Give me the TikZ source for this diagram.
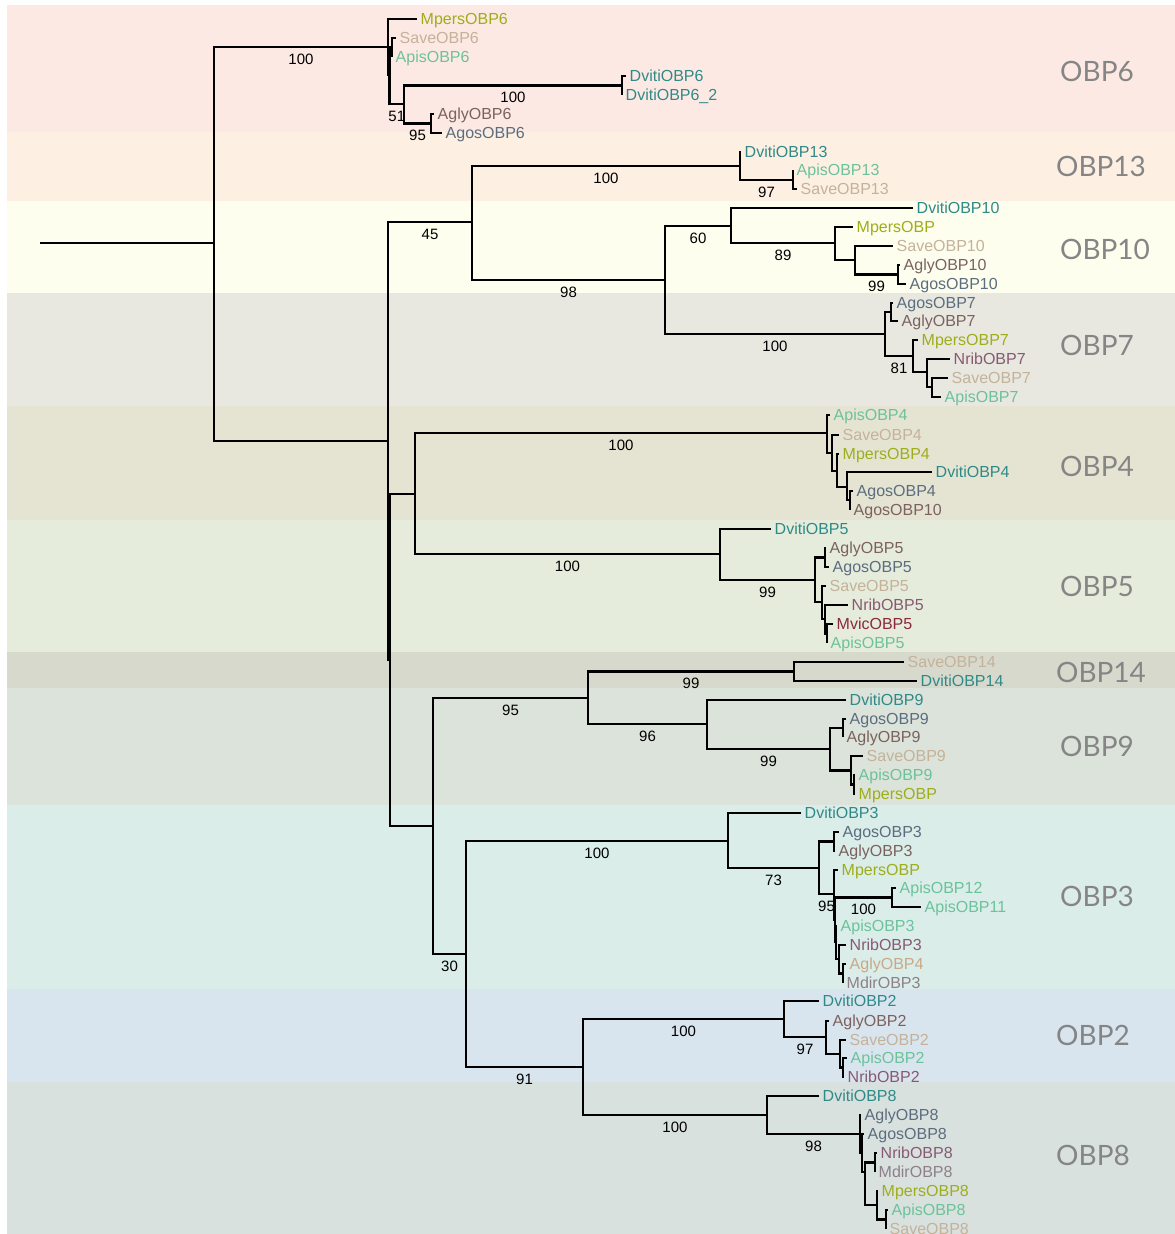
\documentclass[tikz,border=0pt]{standalone}
\usepackage{fontspec}
\setmainfont{Liberation Sans}
\newfontfamily\policegroupe{Lato}
% couleurs des especes
\definecolor{cMpers}{HTML}{9EAD1A}
\definecolor{cSave}{HTML}{C4B29A}
\definecolor{cApis}{HTML}{6CC29A}
\definecolor{cDviti}{HTML}{2F8A87}
\definecolor{cAgly}{HTML}{7B625E}
\definecolor{cAgos}{HTML}{5B6D7E}
\definecolor{cNrib}{HTML}{875A72}
\definecolor{cMvic}{HTML}{8A2A3B}
\definecolor{cMdir}{HTML}{8D8088}
\definecolor{cTan}{HTML}{C8A988}
% couleurs des bandes
\definecolor{bOBPsix}{HTML}{FDE9E4}
\definecolor{bOBPtreize}{HTML}{FDF0E3}
\definecolor{bOBPdix}{HTML}{FEFEEE}
\definecolor{bOBPsept}{HTML}{E8E8E1}
\definecolor{bOBPquatre}{HTML}{E5E4D3}
\definecolor{bOBPcinq}{HTML}{E6ECDC}
\definecolor{bOBPquatorze}{HTML}{D8D9CD}
\definecolor{bOBPneuf}{HTML}{DCE3DA}
\definecolor{bOBPtrois}{HTML}{DAEDE9}
\definecolor{bOBPdeux}{HTML}{D9E5EE}
\definecolor{bOBPhuit}{HTML}{D9E1DF}
\begin{document}
\begin{tikzpicture}[x=1pt,y=-1pt]
			% Styles (MODIFIABLES)
			\tikzstyle{branche}=[-,line width=2.1pt]
			\tikzstyle{feuille}=[anchor=west,inner xsep=3.5pt,inner ysep=0pt,text height=11.5pt,text depth=0pt,font=\fontsize{16}{16}\selectfont]
			\tikzstyle{support}=[pos=0.75,below,inner sep=5pt,text height=11pt,text depth=0pt,font=\fontsize{15}{15}\selectfont]
			\tikzstyle{groupe}=[text=black!48,font=\policegroupe\fontsize{28}{28}\selectfont]
			\useasboundingbox (0,0) rectangle (1175,1234);
			% Bandes
			\fill[bOBPsix] (7,5) rectangle (1175,132);
			\fill[bOBPtreize] (7,132) rectangle (1175,201);
			\fill[bOBPdix] (7,201) rectangle (1175,293);
			\fill[bOBPsept] (7,293) rectangle (1175,406);
			\fill[bOBPquatre] (7,406) rectangle (1175,520);
			\fill[bOBPcinq] (7,520) rectangle (1175,652);
			\fill[bOBPquatorze] (7,652) rectangle (1175,688);
			\fill[bOBPneuf] (7,688) rectangle (1175,805);
			\fill[bOBPtrois] (7,805) rectangle (1175,989);
			\fill[bOBPdeux] (7,989) rectangle (1175,1082);
			\fill[bOBPhuit] (7,1082) rectangle (1175,1234);
			\node[groupe] (lblOBP6) at (1097,71) {OBP6};
			\node[groupe] (lblOBP13) at (1101,166) {OBP13};
			\node[groupe] (lblOBP10) at (1105,249) {OBP10};
			\node[groupe] (lblOBP7) at (1097,345) {OBP7};
			\node[groupe] (lblOBP4) at (1097,466) {OBP4};
			\node[groupe] (lblOBP5) at (1097,586) {OBP5};
			\node[groupe] (lblOBP14) at (1101,672) {OBP14};
			\node[groupe] (lblOBP9) at (1097,746) {OBP9};
			\node[groupe] (lblOBP3) at (1097,896) {OBP3};
			\node[groupe] (lblOBP2) at (1093,1035) {OBP2};
			\node[groupe] (lblOBP8) at (1093,1155) {OBP8};
			% Noeuds internes (axe principal)
			\coordinate (racine) at (40,243);
			\coordinate (R) at (214,243);
			\coordinate (Rb) at (388,441);
			\coordinate (Rba) at (472,222);
			\coordinate (Rbab) at (665,280);
			\coordinate (Rbb) at (390,660);
			\coordinate (Rbba) at (415,494);
			\coordinate (Rbbb) at (433,826);
			\coordinate (Rbbba) at (588,698);
			\coordinate (Rbbbb) at (466,954);
			\coordinate (Rbbbbb) at (583,1067);
			% Noeuds internes (groupes)
			\coordinate (G6) at (388,47);
			\coordinate (G6b) at (389.5,75);
			\coordinate (G6ba) at (392,47);
			\coordinate (G6bb) at (404,104);
			\coordinate (G6bba) at (622,85.5);
			\coordinate (G6bbb) at (431,123.5);
			\coordinate (G13) at (740,166);
			\coordinate (G13b) at (793,180);
			\coordinate (G10) at (731,226);
			\coordinate (G10b) at (835,243);
			\coordinate (G10bb) at (855,260);
			\coordinate (G10bbb) at (898,274.5);
			\coordinate (G7) at (885,334);
			\coordinate (G7a) at (891,312);
			\coordinate (G7b) at (913,356);
			\coordinate (G7bb) at (927,372);
			\coordinate (G7bbb) at (932,387);
			\coordinate (G4) at (827,433);
			\coordinate (G4b) at (832,453);
			\coordinate (G4bb) at (837,471);
			\coordinate (G4bbb) at (847,487);
			\coordinate (G4bbbb) at (850,500);
			\coordinate (G5) at (720,554);
			\coordinate (G5b) at (815,580);
			\coordinate (G5ba) at (825,557.5);
			\coordinate (G5bb) at (822,602);
			\coordinate (G5bbb) at (825,619);
			\coordinate (G5bbbb) at (827,633.5);
			\coordinate (G14) at (794,671.5);
			\coordinate (G9) at (707,724);
			\coordinate (G9b) at (830,749);
			\coordinate (G9ba) at (843,728);
			\coordinate (G9bb) at (851,770.5);
			\coordinate (G9bbb) at (854,784.5);
			\coordinate (G3) at (728,841);
			\coordinate (G3b) at (819,868);
			\coordinate (G3ba) at (834,841.5);
			\coordinate (G3bb) at (834,894);
			\coordinate (G3bbb) at (835,920);
			\coordinate (G3bbba) at (892,897.5);
			\coordinate (G3bbbb) at (836,942);
			\coordinate (G3bbbbb) at (839,959);
			\coordinate (G3bbbbbb) at (843,973.5);
			\coordinate (G2) at (784,1019);
			\coordinate (G2b) at (826,1037);
			\coordinate (G2bb) at (840,1054);
			\coordinate (G2bbb) at (843,1067.5);
			\coordinate (G8) at (767,1115);
			\coordinate (G8b) at (860,1134);
			\coordinate (G8bb) at (862,1153);
			\coordinate (G8bbb) at (865,1172);
			\coordinate (G8bbba) at (875,1162.5);
			\coordinate (G8bbbb) at (877,1205);
			\coordinate (G8bbbbb) at (886,1219.5);
			% Feuilles
			\node[feuille,text=cMpers] (Mpers6) at (417,19) {MpersOBP6};
			\node[feuille,text=cSave] (Save6) at (396,38) {SaveOBP6};
			\node[feuille,text=cApis] (Apis6) at (392,57) {ApisOBP6};
			\node[feuille,text=cDviti] (Dviti6) at (626,76) {DvitiOBP6};
			\node[feuille,text=cDviti] (Dviti6b) at (622,95) {DvitiOBP6\_2};
			\node[feuille,text=cAgly] (Agly6) at (434,114) {AglyOBP6};
			\node[feuille,text=cAgos] (Agos6) at (442,133) {AgosOBP6};
			\node[feuille,text=cDviti] (Dviti13) at (741,152) {DvitiOBP13};
			\node[feuille,text=cApis] (Apis13) at (793,170) {ApisOBP13};
			\node[feuille,text=cSave] (Save13) at (797,189) {SaveOBP13};
			\node[feuille,text=cDviti] (Dviti10) at (913,208) {DvitiOBP10};
			\node[feuille,text=cMpers] (Mpers10) at (853,227) {MpersOBP};
			\node[feuille,text=cSave] (Save10) at (893,246) {SaveOBP10};
			\node[feuille,text=cAgly] (Agly10) at (900,265) {AglyOBP10};
			\node[feuille,text=cAgos] (Agos10) at (906,284) {AgosOBP10};
			\node[feuille,text=cAgos] (Agos7) at (893,303) {AgosOBP7};
			\node[feuille,text=cAgly] (Agly7) at (898,321) {AglyOBP7};
			\node[feuille,text=cMpers] (Mpers7) at (918,340) {MpersOBP7};
			\node[feuille,text=cNrib] (Nrib7) at (950,359) {NribOBP7};
			\node[feuille,text=cSave] (Save7) at (948,378) {SaveOBP7};
			\node[feuille,text=cApis] (Apis7) at (941,397) {ApisOBP7};
			\node[feuille,text=cApis] (Apis4) at (830,415) {ApisOBP4};
			\node[feuille,text=cSave] (Save4) at (839,435) {SaveOBP4};
			\node[feuille,text=cMpers] (Mpers4) at (839,454) {MpersOBP4};
			\node[feuille,text=cDviti] (Dviti4) at (932,472) {DvitiOBP4};
			\node[feuille,text=cAgos] (Agos4) at (853,491) {AgosOBP4};
			\node[feuille,text=cAgly] (Agos4b) at (850,510) {AgosOBP10};
			\node[feuille,text=cDviti] (Dviti5) at (771,529) {DvitiOBP5};
			\node[feuille,text=cAgly] (Agly5) at (826,548) {AglyOBP5};
			\node[feuille,text=cAgos] (Agos5) at (829,567) {AgosOBP5};
			\node[feuille,text=cSave] (Save5) at (826,586) {SaveOBP5};
			\node[feuille,text=cNrib] (Nrib5) at (848,605) {NribOBP5};
			\node[feuille,text=cMvic] (Mvic5) at (833,624) {MvicOBP5};
			\node[feuille,text=cApis] (Apis5) at (827,643) {ApisOBP5};
			\node[feuille,text=cSave] (Save14) at (904,662) {SaveOBP14};
			\node[feuille,text=cDviti] (Dviti14) at (917,681) {DvitiOBP14};
			\node[feuille,text=cDviti] (Dviti9) at (846,700) {DvitiOBP9};
			\node[feuille,text=cAgos] (Agos9) at (846,719) {AgosOBP9};
			\node[feuille,text=cAgly] (Agly9) at (843,737) {AglyOBP9};
			\node[feuille,text=cSave] (Save9) at (863,756) {SaveOBP9};
			\node[feuille,text=cApis] (Apis9) at (855,775) {ApisOBP9};
			\node[feuille,text=cMpers] (Mpers9) at (855,794) {MpersOBP};
			\node[feuille,text=cDviti] (Dviti3) at (801,813) {DvitiOBP3};
			\node[feuille,text=cAgos] (Agos3) at (839,832) {AgosOBP3};
			\node[feuille,text=cAgly] (Agly3) at (835,851) {AglyOBP3};
			\node[feuille,text=cMpers] (Mpers3) at (838,870) {MpersOBP};
			\node[feuille,text=cApis] (Apis12) at (896,888) {ApisOBP12};
			\node[feuille,text=cApis] (Apis11) at (921,907) {ApisOBP11};
			\node[feuille,text=cApis] (Apis3) at (837,926) {ApisOBP3};
			\node[feuille,text=cNrib] (Nrib3) at (846,945) {NribOBP3};
			\node[feuille,text=cTan] (Agly4) at (846,964) {AglyOBP4};
			\node[feuille,text=cMdir] (Mdir3) at (843,983) {MdirOBP3};
			\node[feuille,text=cDviti] (Dviti2) at (819,1001) {DvitiOBP2};
			\node[feuille,text=cAgly] (Agly2) at (829,1021) {AglyOBP2};
			\node[feuille,text=cSave] (Save2) at (846,1040) {SaveOBP2};
			\node[feuille,text=cApis] (Apis2) at (847,1058) {ApisOBP2};
			\node[feuille,text=cNrib] (Nrib2) at (844,1077) {NribOBP2};
			\node[feuille,text=cDviti] (Dviti8) at (819,1096) {DvitiOBP8};
			\node[feuille,text=cAgos] (Agly8) at (861,1115) {AglyOBP8};
			\node[feuille,text=cAgos] (Agos8) at (864,1134) {AgosOBP8};
			\node[feuille,text=cNrib] (Nrib8) at (877,1153) {NribOBP8};
			\node[feuille,text=cMdir] (Mdir8) at (875,1172) {MdirOBP8};
			\node[feuille,text=cMpers] (Mpers8) at (878,1191) {MpersOBP8};
			\node[feuille,text=cApis] (Apis8) at (888,1210) {ApisOBP8};
			\node[feuille,text=cSave] (Save8) at (886,1229) {SaveOBP8};
			% Arcs (axe principal)
			\draw[branche] (racine)--(R);
			\draw[branche] (R) |- (G6) node[support]{100};
			\draw[branche] (R) |- (Rb);
			\draw[branche] (Rb) |- (Rba) node[support]{45};
			\draw[branche] (Rba) |- (G13) node[support]{100};
			\draw[branche] (Rba) |- (Rbab) node[support]{98};
			\draw[branche] (Rbab) |- (G10) node[support]{60};
			\draw[branche] (Rbab) |- (G7) node[support]{100};
			\draw[branche] (Rb) |- (Rbb);
			\draw[branche] (Rbb) |- (Rbba);
			\draw[branche] (Rbba) |- (G4) node[support]{100};
			\draw[branche] (Rbba) |- (G5) node[support]{100};
			\draw[branche] (Rbb) |- (Rbbb);
			\draw[branche] (Rbbb) |- (Rbbba) node[support]{95};
			\draw[branche] (Rbbba) |- (G14) node[support]{99};
			\draw[branche] (Rbbba) |- (G9) node[support]{96};
			\draw[branche] (Rbbb) |- (Rbbbb) node[support]{30};
			\draw[branche] (Rbbbb) |- (G3) node[support]{100};
			\draw[branche] (Rbbbb) |- (Rbbbbb) node[support]{91};
			\draw[branche] (Rbbbbb) |- (G2) node[support]{100};
			\draw[branche] (Rbbbbb) |- (G8) node[support]{100};
			% Arcs OBP6
			\draw[branche] (G6) |- (Mpers6.west);
			\draw[branche] (G6) |- (G6b);
			\draw[branche] (G6b) |- (G6ba);
			\draw[branche] (G6ba) |- (Save6.west);
			\draw[branche] (G6ba) |- (Apis6.west);
			\draw[branche] (G6b) |- (G6bb) node[support]{51};
			\draw[branche] (G6bb) |- (G6bba) node[support]{100};
			\draw[branche] (G6bba) |- (Dviti6.west);
			\draw[branche] (G6bba) |- (Dviti6b.west);
			\draw[branche] (G6bb) |- (G6bbb) node[support]{95};
			\draw[branche] (G6bbb) |- (Agly6.west);
			\draw[branche] (G6bbb) |- (Agos6.west);
			% Arcs OBP13
			\draw[branche] (G13) |- (Dviti13.west);
			\draw[branche] (G13) |- (G13b) node[support]{97};
			\draw[branche] (G13b) |- (Apis13.west);
			\draw[branche] (G13b) |- (Save13.west);
			% Arcs OBP10
			\draw[branche] (G10) |- (Dviti10.west);
			\draw[branche] (G10) |- (G10b) node[support]{89};
			\draw[branche] (G10b) |- (Mpers10.west);
			\draw[branche] (G10b) |- (G10bb);
			\draw[branche] (G10bb) |- (Save10.west);
			\draw[branche] (G10bb) |- (G10bbb) node[support]{99};
			\draw[branche] (G10bbb) |- (Agly10.west);
			\draw[branche] (G10bbb) |- (Agos10.west);
			% Arcs OBP7
			\draw[branche] (G7) |- (G7a);
			\draw[branche] (G7a) |- (Agos7.west);
			\draw[branche] (G7a) |- (Agly7.west);
			\draw[branche] (G7) |- (G7b) node[support]{81};
			\draw[branche] (G7b) |- (Mpers7.west);
			\draw[branche] (G7b) |- (G7bb);
			\draw[branche] (G7bb) |- (Nrib7.west);
			\draw[branche] (G7bb) |- (G7bbb);
			\draw[branche] (G7bbb) |- (Save7.west);
			\draw[branche] (G7bbb) |- (Apis7.west);
			% Arcs OBP4
			\draw[branche] (G4) |- (Apis4.west);
			\draw[branche] (G4) |- (G4b);
			\draw[branche] (G4b) |- (Save4.west);
			\draw[branche] (G4b) |- (G4bb);
			\draw[branche] (G4bb) |- (Mpers4.west);
			\draw[branche] (G4bb) |- (G4bbb);
			\draw[branche] (G4bbb) |- (Dviti4.west);
			\draw[branche] (G4bbb) |- (G4bbbb);
			\draw[branche] (G4bbbb) |- (Agos4.west);
			\draw[branche] (G4bbbb) |- (Agos4b.west);
			% Arcs OBP5
			\draw[branche] (G5) |- (Dviti5.west);
			\draw[branche] (G5) |- (G5b) node[support]{99};
			\draw[branche] (G5b) |- (G5ba);
			\draw[branche] (G5ba) |- (Agly5.west);
			\draw[branche] (G5ba) |- (Agos5.west);
			\draw[branche] (G5b) |- (G5bb);
			\draw[branche] (G5bb) |- (Save5.west);
			\draw[branche] (G5bb) |- (G5bbb);
			\draw[branche] (G5bbb) |- (Nrib5.west);
			\draw[branche] (G5bbb) |- (G5bbbb);
			\draw[branche] (G5bbbb) |- (Mvic5.west);
			\draw[branche] (G5bbbb) |- (Apis5.west);
			% Arcs OBP14 et OBP9
			\draw[branche] (G14) |- (Save14.west);
			\draw[branche] (G14) |- (Dviti14.west);
			\draw[branche] (G9) |- (Dviti9.west);
			\draw[branche] (G9) |- (G9b) node[support]{99};
			\draw[branche] (G9b) |- (G9ba);
			\draw[branche] (G9ba) |- (Agos9.west);
			\draw[branche] (G9ba) |- (Agly9.west);
			\draw[branche] (G9b) |- (G9bb);
			\draw[branche] (G9bb) |- (Save9.west);
			\draw[branche] (G9bb) |- (G9bbb);
			\draw[branche] (G9bbb) |- (Apis9.west);
			\draw[branche] (G9bbb) |- (Mpers9.west);
			% Arcs OBP3
			\draw[branche] (G3) |- (Dviti3.west);
			\draw[branche] (G3) |- (G3b) node[support]{73};
			\draw[branche] (G3b) |- (G3ba);
			\draw[branche] (G3ba) |- (Agos3.west);
			\draw[branche] (G3ba) |- (Agly3.west);
			\draw[branche] (G3b) |- (G3bb) node[support]{95};
			\draw[branche] (G3bb) |- (Mpers3.west);
			\draw[branche] (G3bb) |- (G3bbb);
			\draw[branche] (G3bbb) |- (G3bbba) node[support]{100};
			\draw[branche] (G3bbba) |- (Apis12.west);
			\draw[branche] (G3bbba) |- (Apis11.west);
			\draw[branche] (G3bbb) |- (G3bbbb);
			\draw[branche] (G3bbbb) |- (Apis3.west);
			\draw[branche] (G3bbbb) |- (G3bbbbb);
			\draw[branche] (G3bbbbb) |- (Nrib3.west);
			\draw[branche] (G3bbbbb) |- (G3bbbbbb);
			\draw[branche] (G3bbbbbb) |- (Agly4.west);
			\draw[branche] (G3bbbbbb) |- (Mdir3.west);
			% Arcs OBP2
			\draw[branche] (G2) |- (Dviti2.west);
			\draw[branche] (G2) |- (G2b) node[support]{97};
			\draw[branche] (G2b) |- (Agly2.west);
			\draw[branche] (G2b) |- (G2bb);
			\draw[branche] (G2bb) |- (Save2.west);
			\draw[branche] (G2bb) |- (G2bbb);
			\draw[branche] (G2bbb) |- (Apis2.west);
			\draw[branche] (G2bbb) |- (Nrib2.west);
			% Arcs OBP8
			\draw[branche] (G8) |- (Dviti8.west);
			\draw[branche] (G8) |- (G8b) node[support]{98};
			\draw[branche] (G8b) |- (Agly8.west);
			\draw[branche] (G8b) |- (G8bb);
			\draw[branche] (G8bb) |- (Agos8.west);
			\draw[branche] (G8bb) |- (G8bbb);
			\draw[branche] (G8bbb) |- (G8bbba);
			\draw[branche] (G8bbba) |- (Nrib8.west);
			\draw[branche] (G8bbba) |- (Mdir8.west);
			\draw[branche] (G8bbb) |- (G8bbbb);
			\draw[branche] (G8bbbb) |- (Mpers8.west);
			\draw[branche] (G8bbbb) |- (G8bbbbb);
			\draw[branche] (G8bbbbb) |- (Apis8.west);
			\draw[branche] (G8bbbbb) |- (Save8.west);
\end{tikzpicture}
\end{document}
